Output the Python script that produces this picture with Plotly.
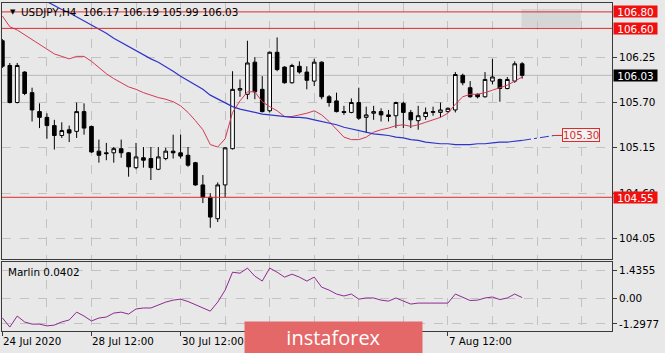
import plotly.graph_objects as go

# ---------------- data (USDJPY H4) ----------------
open_ = [106.45, 106.15, 105.70, 106.07, 105.82, 105.59, 105.52, 105.42, 105.30, 105.37,
         105.35, 105.59, 105.41, 105.11, 105.09, 105.09, 105.14, 105.09, 104.91, 105.03,
         105.02, 104.89, 105.02, 105.11, 105.09, 105.06, 104.97, 104.70, 104.55, 104.29,
         104.70, 105.14, 105.85, 105.80, 106.19, 105.86, 105.60, 106.31, 106.13, 105.94,
         106.14, 106.07, 105.96, 106.19, 105.77, 105.72, 105.59, 105.58, 105.70, 105.52,
         105.57, 105.59, 105.55, 105.54, 105.69, 105.58, 105.48, 105.53, 105.58, 105.58,
         105.59, 105.61, 106.03, 105.88, 105.80, 105.77, 105.96, 105.98, 105.87, 105.96,
         106.17]
high = [106.47, 106.18, 106.18, 106.08, 105.88, 105.69, 105.57, 105.49, 105.46, 105.42,
        105.70, 105.69, 105.42, 105.25, 105.21, 105.16, 105.25, 105.10, 105.21, 105.16,
        105.16, 105.16, 105.15, 105.31, 105.31, 105.16, 104.98, 104.82, 104.60, 104.73,
        105.16, 106.08, 105.98, 106.45, 106.25, 106.02, 106.32, 106.49, 106.14, 106.17,
        106.20, 106.14, 106.23, 106.20, 105.79, 105.82, 105.66, 105.75, 105.88, 105.65,
        105.66, 105.63, 105.61, 105.71, 105.71, 105.61, 105.66, 105.64, 105.65, 105.70,
        105.64, 106.07, 106.05, 105.96, 105.81, 106.07, 106.23, 105.99, 106.01, 106.20,
        106.19]
low = [106.12, 105.69, 105.69, 105.79, 105.47, 105.39, 105.26, 105.13, 105.27, 105.22,
       105.27, 105.31, 105.09, 104.97, 105.00, 104.97, 105.03, 104.80, 104.89, 104.91,
       104.76, 104.88, 105.00, 105.02, 105.02, 104.92, 104.69, 104.48, 104.18, 104.25,
       104.55, 105.13, 105.77, 105.74, 105.74, 105.58, 105.58, 106.08, 105.93, 105.93,
       106.05, 105.86, 105.90, 105.74, 105.65, 105.58, 105.55, 105.57, 105.49, 105.33,
       105.49, 105.47, 105.47, 105.39, 105.39, 105.39, 105.37, 105.49, 105.54, 105.52,
       105.58, 105.58, 105.91, 105.76, 105.75, 105.76, 105.92, 105.71, 105.86, 105.94,
       105.99]
close = [106.14, 105.70, 106.15, 105.81, 105.61, 105.52, 105.42, 105.30, 105.36, 105.33,
         105.59, 105.39, 105.10, 105.06, 105.08, 105.14, 105.09, 104.92, 105.04, 105.00,
         104.91, 105.04, 105.11, 105.09, 105.05, 104.94, 104.70, 104.55, 104.31, 104.70,
         105.15, 105.86, 105.87, 106.18, 105.83, 105.59, 106.31, 106.10, 105.94, 106.15,
         106.07, 105.97, 106.19, 105.77, 105.70, 105.59, 105.58, 105.70, 105.51, 105.55,
         105.59, 105.55, 105.53, 105.70, 105.58, 105.49, 105.54, 105.58, 105.59, 105.61,
         105.63, 106.04, 105.94, 105.77, 105.77, 105.98, 106.01, 105.87, 105.98, 106.17,
         106.03]
ma_fast = [106.75, 106.62, 106.58, 106.52, 106.46, 106.41, 106.34, 106.29, 106.26, 106.23,
           106.26, 106.26, 106.20, 106.12, 106.05, 105.99, 105.94, 105.89, 105.86, 105.82,
           105.79, 105.76, 105.74, 105.71, 105.66, 105.58, 105.48, 105.37, 105.19, 105.16,
           105.26, 105.58, 105.72, 105.83, 105.83, 105.71, 105.65, 105.60, 105.53, 105.53,
           105.55, 105.57, 105.60, 105.55, 105.47, 105.37, 105.28, 105.25, 105.25, 105.28,
           105.34, 105.37, 105.39, 105.42, 105.43, 105.41, 105.43, 105.46, 105.49, 105.52,
           105.57, 105.68, 105.77, 105.80, 105.80, 105.82, 105.85, 105.88, 105.91, 105.96,
           106.01]
ma_slow = [107.20, 107.15, 107.11, 107.06, 107.02, 106.97, 106.92, 106.88, 106.83, 106.79,
           106.74, 106.70, 106.65, 106.60, 106.54, 106.48, 106.43, 106.37, 106.32, 106.27,
           106.23, 106.19, 106.14, 106.08, 106.02, 105.97, 105.91, 105.86, 105.79, 105.74,
           105.69, 105.65, 105.62, 105.60, 105.58, 105.56, 105.55, 105.54, 105.53, 105.52,
           105.52, 105.51, 105.49, 105.47, 105.45, 105.43, 105.40, 105.38, 105.36, 105.34,
           105.32, 105.31, 105.30, 105.28, 105.27, 105.25, 105.24, 105.22, 105.21, 105.20,
           105.20, 105.19, 105.19, 105.19, 105.20, 105.20, 105.21, 105.22, 105.22, 105.23,
           105.24]
marlin = [-0.99, -1.46, -0.90, -1.20, -1.31, -1.31, -1.40, -1.36, -1.20, -1.10,
          -0.70, -0.90, -1.15, -1.00, -0.95, -0.75, -0.70, -0.80, -0.54, -0.49,
          -0.49, -0.34, -0.19, -0.09, -0.04, -0.16, -0.31, -0.49, -0.65, -0.19,
          0.42, 1.33, 1.28, 1.54, 1.13, 0.88, 1.54, 1.33, 1.08, 1.23,
          1.08, 0.88, 1.08, 0.57, 0.42, 0.22, 0.12, 0.22, -0.04, 0.02,
          0.02, -0.09, -0.14, 0.02, -0.14, -0.29, -0.24, -0.24, -0.24, -0.24,
          -0.24, 0.22, 0.07, -0.11, -0.09, 0.02, 0.07, -0.06, 0.02, 0.22,
          0.0402]
ma_slow_target = 105.30
ma_slow_target_index = 74.3
levels = [106.80, 106.60, 104.55]
zone_low, zone_high = 106.615, 106.835
zone_start, zone_end = 69.9, 77.9
price_ticks = [106.25, 105.70, 105.15, 104.60, 104.05]
osc_ticks = [1.4355, 0.0, -1.2977]
osc_tick_text = ["1.4355", "0.00", "-1.2977"]
time_labels = {0: "24 Jul 2020", 12: "28 Jul 12:00", 24: "30 Jul 12:00", 60: "7 Aug 12:00"}
title_text = "USDJPY,H4  106.17 106.19 105.99 106.03"
marlin_text = "Marlin 0.0402"
last_price = close[-1]

idx = list(range(len(close)))

BG = "#e8e8e8"
GRID = "#c2c2c2"
AXC = "#3a3a3a"
FONT = "DejaVu Sans"
RED = "#f01010"
LVL = "#e02a2a"

fig = go.Figure()

fig.add_trace(go.Candlestick(
    x=idx, open=open_, high=high, low=low, close=close,
    increasing=dict(line=dict(color="black", width=1), fillcolor="white"),
    decreasing=dict(line=dict(color="black", width=1), fillcolor="black"),
    whiskerwidth=0, xaxis="x", yaxis="y", hoverinfo="skip"))
fig.add_trace(go.Scatter(x=idx, y=ma_fast, mode="lines",
                         line=dict(color="#d23a55", width=1), xaxis="x", yaxis="y"))
fig.add_trace(go.Scatter(x=idx, y=ma_slow, mode="lines",
                         line=dict(color="#2f35c8", width=1.2), xaxis="x", yaxis="y"))
fig.add_trace(go.Scatter(x=[idx[-1], ma_slow_target_index], y=[ma_slow[-1], ma_slow_target],
                         mode="lines", line=dict(color="#2f35c8", width=1, dash="dashdot"),
                         xaxis="x", yaxis="y"))
fig.add_trace(go.Scatter(x=[ma_slow_target_index, ma_slow_target_index + 1.1],
                         y=[ma_slow_target, ma_slow_target], mode="lines",
                         line=dict(color=LVL, width=1), xaxis="x", yaxis="y"))
fig.add_trace(go.Scatter(x=idx, y=marlin, mode="lines",
                         line=dict(color="#8e2a92", width=1), xaxis="x2", yaxis="y2"))

shapes = []
shapes.append(dict(type="rect", xref="x", yref="y", x0=zone_start, x1=zone_end,
                   y0=zone_low, y1=zone_high, fillcolor="#d6d6d6", line=dict(width=0),
                   layer="below"))
shapes.append(dict(type="line", xref="paper", yref="y", x0=0, x1=1,
                   y0=last_price, y1=last_price, line=dict(color="#b8b8b8", width=1),
                   layer="below"))
for lv in levels:
    shapes.append(dict(type="line", xref="paper", yref="y", x0=0, x1=1, y0=lv, y1=lv,
                       line=dict(color=LVL, width=1), layer="above"))

annotations = []
annotations.append(dict(xref="paper", yref="paper", x=0, y=0.9726, xshift=6,
                        xanchor="left", yanchor="middle", text="▼", showarrow=False,
                        font=dict(family=FONT, size=7, color="black")))
annotations.append(dict(xref="paper", yref="paper", x=0, y=0.9726, xshift=17,
                        xanchor="left", yanchor="middle", text=title_text, showarrow=False,
                        font=dict(family=FONT, size=10.4, color="black")))
annotations.append(dict(xref="paper", yref="paper", x=0, y=0.181, xshift=4,
                        xanchor="left", yanchor="middle", text=marlin_text, showarrow=False,
                        font=dict(family=FONT, size=10.4, color="black")))
for pos, lab in time_labels.items():
    annotations.append(dict(xref="x2", yref="paper", x=pos, y=-0.031, xshift=-1,
                            xanchor="left", yanchor="middle", text=lab, showarrow=False,
                            font=dict(family=FONT, size=10.3, color="black")))
# price boxes on the right axis
for lv, bg, fg in [(levels[0], RED, "white"), (levels[1], RED, "white"),
                   (last_price, "black", "white"), (levels[2], RED, "white")]:
    annotations.append(dict(xref="paper", yref="y", x=1, y=lv, xshift=1,
                            xanchor="left", yanchor="middle", text=f"{lv:.2f}",
                            showarrow=False, bgcolor=bg, width=43, height=11,
                            borderpad=0, font=dict(family=FONT, size=10.4, color=fg)))
annotations.append(dict(xref="x", yref="y", x=ma_slow_target_index + 1.1, y=ma_slow_target,
                        xanchor="left", yanchor="middle", text=f"{ma_slow_target:.2f}",
                        showarrow=False, bgcolor="#f2f2f2", bordercolor=LVL, borderwidth=1,
                        borderpad=0, font=dict(family=FONT, size=10.4, color="#d23030")))
# logo
annotations.append(dict(xref="paper", yref="paper", x=0.5434, y=-0.0198,
                        xanchor="center", yanchor="middle", text="instaforex",
                        showarrow=False, bgcolor="#e46868", width=177, height=31,
                        borderpad=0, font=dict(family="Open Sans", size=20, color="white")))

common_x = dict(range=[-0.05, 82.1], showline=True, mirror=True, linecolor=AXC,
                linewidth=1, zeroline=False, showgrid=True, gridcolor=GRID,
                griddash="dash", gridwidth=1, tickmode="array",
                tickvals=[0, 12, 24, 36, 48, 60],
                minor=dict(tickmode="linear", tick0=0, dtick=6, showgrid=True,
                           gridcolor=GRID, griddash="dash", ticklen=0))

fig.update_layout(
    width=665, height=353,
    margin=dict(l=2, r=53, t=3, b=22),
    paper_bgcolor=BG, plot_bgcolor=BG, showlegend=False,
    xaxis=dict(domain=[0, 1], anchor="y", showticklabels=False, ticks="",
               rangeslider=dict(visible=False), **common_x),
    xaxis2=dict(domain=[0, 1], anchor="y2", matches="x", showticklabels=False,
                ticks="outside", ticklen=4, tickcolor=AXC, **common_x),
    yaxis=dict(domain=[0.2195, 1], anchor="x", side="right", range=[103.801, 106.908],
               tickmode="array", tickvals=price_ticks,
               ticktext=[f"{t:.2f}" for t in price_ticks],
               ticks="outside", ticklen=4, tickcolor=AXC,
               showline=True, mirror=True, linecolor=AXC, linewidth=1,
               showgrid=True, gridcolor=GRID, griddash="dash", zeroline=False,
               tickfont=dict(family=FONT, size=10.4, color="black")),
    yaxis2=dict(domain=[0, 0.2104], anchor="x2", side="right", range=[-1.66, 1.85],
                tickmode="array", tickvals=osc_ticks, ticktext=osc_tick_text,
                ticks="outside", ticklen=4, tickcolor=AXC,
                showline=True, mirror=True, linecolor=AXC, linewidth=1,
                showgrid=True, gridcolor=GRID, griddash="dash", zeroline=False,
                tickfont=dict(family=FONT, size=10.4, color="black")),
    shapes=shapes, annotations=annotations,
)

fig.write_html("out.html")
